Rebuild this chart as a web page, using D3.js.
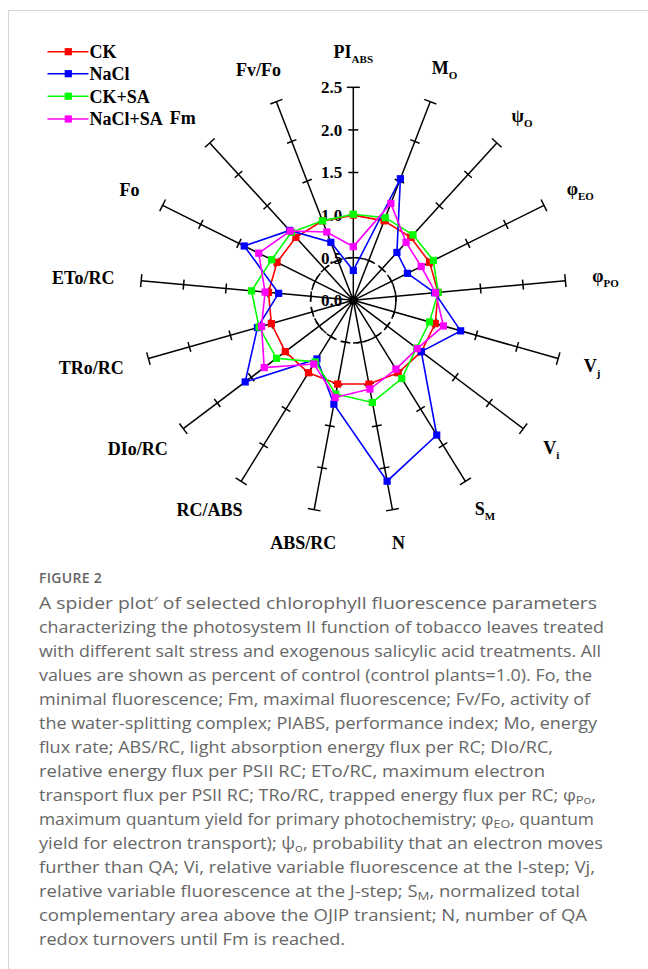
<!DOCTYPE html>
<html>
<head>
<meta charset="utf-8">
<script src="https://cdn.jsdelivr.net/npm/d3@7"></script>
<style>
  html, body { margin: 0; padding: 0; background: #fff; }
  svg { display: block; }
</style>
</head>
<body>
<svg id="fig" width="648" height="969"></svg>
<script>
// Chlorophyll fluorescence parameters (relative to control = 1.0)
const axisMain = ["PI", "M", "ψ", "φ", "φ", "V", "V", "S", "N", "ABS/RC", "RC/ABS", "DIo/RC", "TRo/RC", "ETo/RC", "Fo", "Fm", "Fv/Fo"];
const axisSub  = ["ABS", "O", "O", "EO", "PO", "j", "i", "M", "", "", "", "", "", "", "", "", ""];

const seriesNames = ["CK", "NaCl", "CK+SA", "NaCl+SA"];
const seriesColors = ["#ff0000", "#0000ff", "#00ff00", "#ff00ff"];

const ck     = [1.00, 1.00, 1.00, 1.00, 1.00, 1.00, 1.00, 1.00, 1.00, 1.00, 1.00, 1.00, 1.00, 1.00, 1.00, 1.00, 1.00];
const nacl   = [0.35, 1.53, 0.76, 0.71, 0.96, 1.31, 1.00, 1.86, 2.16, 1.24, 0.81, 1.59, 1.17, 0.88, 1.43, 1.11, 0.73];
const ckSA   = [1.01, 1.04, 1.04, 1.05, 1.00, 0.93, 0.93, 1.08, 1.22, 1.12, 0.85, 1.13, 1.15, 1.20, 1.07, 1.08, 1.00];
const naclSA = [0.63, 1.22, 0.92, 0.89, 0.97, 1.10, 0.94, 0.95, 1.06, 1.16, 0.88, 1.31, 1.12, 1.04, 1.24, 1.10, 0.86];

const tickValues = [0, 0.5, 1.0, 1.5, 2.0, 2.5];

const captionTitle = "FIGURE 2";
// each caption line: array of [text, isSubscript]
const captionLines = [
  [["A spider plot′ of selected chlorophyll fluorescence parameters", 0]],
  [["characterizing the photosystem II function of tobacco leaves treated", 0]],
  [["with different salt stress and exogenous salicylic acid treatments. All", 0]],
  [["values are shown as percent of control (control plants=1.0). Fo, the", 0]],
  [["minimal fluorescence; Fm, maximal fluorescence; Fv/Fo, activity of", 0]],
  [["the water-splitting complex; PIABS, performance index; Mo, energy", 0]],
  [["flux rate; ABS/RC, light absorption energy flux per RC; DIo/RC,", 0]],
  [["relative energy flux per PSII RC; ETo/RC, maximum electron", 0]],
  [["transport flux per PSII RC; TRo/RC, trapped energy flux per RC; φ", 0], ["Po", 1], [",", 0]],
  [["maximum quantum yield for primary photochemistry; φ", 0], ["EO", 1], [", quantum", 0]],
  [["yield for electron transport); ψ", 0], ["o", 1], [", probability that an electron moves", 0]],
  [["further than QA; Vi, relative variable fluorescence at the I-step; Vj,", 0]],
  [["relative variable fluorescence at the J-step; S", 0], ["M", 1], [", normalized total", 0]],
  [["complementary area above the OJIP transient; N, number of QA", 0]],
  [["redox turnovers until Fm is reached.", 0]]
];
// set width of each caption line
const captionWidths = [558, 565, 562, 553, 551, 558, 514, 506, 557, 555, 564, 556, 541, 548, 306];

const svg = d3.select("#fig");
const serif = "'Liberation Serif', 'Times New Roman', serif";

// frame lines
svg.append("line").attr("x1", 8.5).attr("y1", 10.5).attr("x2", 648).attr("y2", 10.5)
  .attr("stroke", "#d4d4d4").attr("stroke-width", 1);
svg.append("line").attr("x1", 8.5).attr("y1", 10.5).attr("x2", 8.5).attr("y2", 969)
  .attr("stroke", "#d4d4d4").attr("stroke-width", 1);

const cx = 353.3, cy = 300.3;
const n = axisMain.length;
const r = d3.scaleLinear().domain([0, 2.5]).range([0, 213]);
const ang = d3.scaleLinear().domain([0, n]).range([0, 2 * Math.PI]);
const pt = (i, v) => [cx + r(v) * Math.sin(ang(i)), cy - r(v) * Math.cos(ang(i))];

const g = svg.append("g");

// tick labels on the vertical axis
g.selectAll("text.tick").data(tickValues).join("text")
  .attr("class", "tick")
  .attr("x", cx - 11)
  .attr("y", d => cy - r(d))
  .attr("dy", "0.35em")
  .attr("text-anchor", "end")
  .attr("font-family", serif).attr("font-weight", "bold").attr("font-size", 17)
  .text(d3.format(".1f"));

// dashed reference circle
g.append("circle").attr("cx", cx).attr("cy", cy).attr("r", r(0.5))
  .attr("fill", "none").attr("stroke", "#000").attr("stroke-width", 1.5)
  .attr("stroke-dasharray", "7,5");

// spokes with tick marks and end caps
const idx = d3.range(n);
idx.forEach(i => {
  const a = ang(i);
  const [x2, y2] = pt(i, 2.5);
  g.append("line").attr("x1", cx).attr("y1", cy).attr("x2", x2).attr("y2", y2)
    .attr("stroke", "#000").attr("stroke-width", 1.5);
  const px = Math.cos(a), py = Math.sin(a); // perpendicular direction
  tickValues.slice(1).forEach(t => {
    const [tx, ty] = pt(i, t);
    const h = t === 2.5 ? 6.5 : 5;
    g.append("line")
      .attr("x1", tx - px * h).attr("y1", ty - py * h)
      .attr("x2", tx + px * h).attr("y2", ty + py * h)
      .attr("stroke", "#000").attr("stroke-width", 1.5);
  });
});
g.append("circle").attr("cx", cx).attr("cy", cy).attr("r", 4.5).attr("fill", "#000");

// axis labels, placed outside the spoke ends
idx.forEach(i => {
  const a = ang(i);
  const t = g.append("text")
    .attr("font-family", serif).attr("font-weight", "bold").attr("font-size", 18);
  t.append("tspan").text(axisMain[i]);
  if (axisSub[i]) t.append("tspan").attr("font-size", 11).attr("dy", 5).text(axisSub[i]);
  const bb = t.node().getBBox();
  const w = bb.width, hh = 18, R0 = 238;
  const tx = cx + (R0 + w / 2 + 2) * Math.sin(a);
  const ty = cy - (R0 + hh / 2) * Math.cos(a);
  t.attr("transform", `translate(${tx - (bb.x + bb.width / 2)},${ty - (bb.y + bb.height / 2)})`);
});

// data polygons
const allSeries = [ck, nacl, ckSA, naclSA];
const line = d3.line().curve(d3.curveLinearClosed);
allSeries.forEach((vals, s) => {
  const pts = vals.map((v, i) => pt(i, v));
  g.append("path").attr("d", line(pts))
    .attr("fill", "none").attr("stroke", seriesColors[s]).attr("stroke-width", 1.6);
  g.selectAll(null).data(pts).join("rect")
    .attr("x", d => d[0] - 3.6).attr("y", d => d[1] - 3.6)
    .attr("width", 7.2).attr("height", 7.2)
    .attr("fill", seriesColors[s]);
});

// legend
const leg = svg.append("g");
seriesNames.forEach((name, s) => {
  const y = [51.7, 73.7, 96.2, 119][s];
  leg.append("line").attr("x1", 47.5).attr("x2", 88.5).attr("y1", y).attr("y2", y)
    .attr("stroke", seriesColors[s]).attr("stroke-width", 1.6);
  leg.append("rect").attr("x", 68.3 - 3.6).attr("y", y - 3.6).attr("width", 7.2).attr("height", 7.2)
    .attr("fill", seriesColors[s]);
  leg.append("text").attr("x", 89.5).attr("y", y).attr("dy", "0.35em")
    .attr("font-family", serif).attr("font-weight", "bold").attr("font-size", 18)
    .text(name);
});

// caption
const sans = "'Open Sans', Lato, sans-serif";
svg.append("text").attr("x", 39).attr("y", 583)
  .attr("font-family", sans).attr("font-weight", 600).attr("font-size", 14)
  .attr("fill", "#666").attr("letter-spacing", 0.3)
  .text(captionTitle);
captionLines.forEach((parts, k) => {
  const t = svg.append("text").attr("x", 39).attr("y", 609 + k * 24)
    .attr("font-family", sans).attr("font-size", 16).attr("fill", "#666")
    .attr("textLength", captionWidths[k]).attr("lengthAdjust", "spacingAndGlyphs");
  parts.forEach(([txt, sub], j) => {
    const ts = t.append("tspan").text(txt);
    if (sub) ts.attr("font-size", 11.5).attr("dy", 3);
    else if (j > 0 && parts[j - 1][1]) ts.attr("dy", -3);
  });
});
</script>
</body>
</html>
